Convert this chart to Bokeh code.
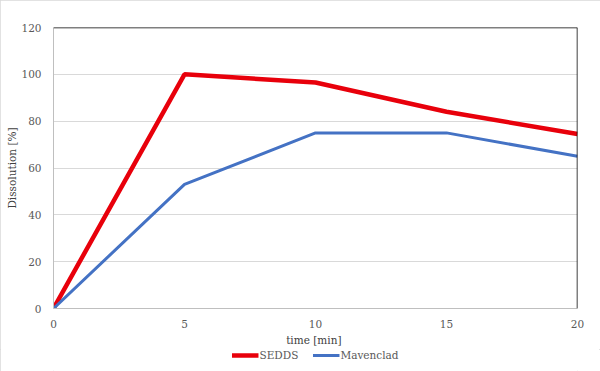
from bokeh.plotting import figure
from bokeh.layouts import column
from bokeh.models import Range1d, Legend, LegendItem, FixedTicker, Span
from bokeh.embed import file_html
from bokeh.resources import INLINE

time_min = [0, 5, 10, 15, 20]
sedds = [0, 100, 96.5, 84, 74.5]
mavenclad = [0, 53, 75, 75, 65]
x_ticks = [0, 5, 10, 15, 20]
y_ticks = [0, 20, 40, 60, 80, 100, 120]
series_names = ["SEDDS", "Mavenclad"]
series_colors = ["#e8000b", "#4472c4"]
series_widths = [4.5, 3]

FONT = "DejaVu Serif"
GREY_TXT = "#595959"

p = figure(width=600, height=349, output_backend="svg", toolbar_location=None,
           x_range=Range1d(x_ticks[0], x_ticks[-1]), y_range=Range1d(y_ticks[0], y_ticks[-1]),
           min_border_left=53, min_border_right=23, min_border_top=27, min_border_bottom=41)
p.outline_line_color = None
p.background_fill_color = "white"
p.border_fill_color = "white"

p.line(time_min, sedds, line_color=series_colors[0], line_width=series_widths[0])
p.line(time_min, mavenclad, line_color=series_colors[1], line_width=series_widths[1])

# axes
p.xaxis.ticker = FixedTicker(ticks=x_ticks)
p.yaxis.ticker = FixedTicker(ticks=y_ticks)
for ax in (p.xaxis[0], p.yaxis[0]):
    ax.axis_line_color = "#bfbfbf"
    ax.axis_line_width = 1
    ax.major_tick_line_color = None
    ax.minor_tick_line_color = None
    ax.major_label_text_font = FONT
    ax.major_label_text_font_size = "10.5px"
    ax.major_label_text_color = GREY_TXT
    ax.axis_label_text_font = FONT
    ax.axis_label_text_font_size = "10.5px"
    ax.axis_label_text_font_style = "normal"
    ax.axis_label_text_color = "#404040"
p.xaxis.axis_label = "time  [min]"
p.yaxis.axis_label = "Dissolution [%]"
p.xaxis.major_label_standoff = 5
p.xaxis.axis_label_standoff = 3
p.yaxis.major_label_standoff = 6
p.yaxis.axis_label_standoff = 0

p.xgrid.grid_line_color = None
p.ygrid.grid_line_color = "#d9d9d9"
p.ygrid.grid_line_width = 1

# black frame lines on top and right
p.add_layout(Span(location=y_ticks[-1], dimension="width", line_color="black", line_width=1.5))
p.add_layout(Span(location=x_ticks[-1], dimension="height", line_color="black", line_width=1.5))

# legend strip underneath the chart
lg = figure(width=600, height=22, output_backend="svg", toolbar_location=None,
            x_range=Range1d(0, 1), y_range=Range1d(0, 1), min_border=0)
lg.axis.visible = False
lg.grid.visible = False
lg.outline_line_color = None
lg.background_fill_color = "white"
lg.border_fill_color = "white"
nan = float("nan")
items = []
for name, col, w in zip(series_names, series_colors, series_widths):
    rr = lg.line([nan, nan], [nan, nan], line_color=col, line_width=w)
    items.append(LegendItem(label=name, renderers=[rr]))

legend = Legend(items=items, orientation="horizontal", location="top_center")
legend.label_text_font = FONT
legend.label_text_font_size = "10.5px"
legend.label_text_color = GREY_TXT
legend.glyph_width = 27
legend.glyph_height = 12
legend.label_standoff = 1
legend.spacing = 14
legend.padding = 0
legend.margin = 0
legend.border_line_color = None
legend.background_fill_alpha = 0
legend.label_height = 12
lg.add_layout(legend, "center")

layout = column(p, lg, spacing=0)
layout.styles = {"outline": "1px solid #d9d9d9", "outline-offset": "-1px"}

open("out.html", "w").write(file_html(layout, INLINE))
